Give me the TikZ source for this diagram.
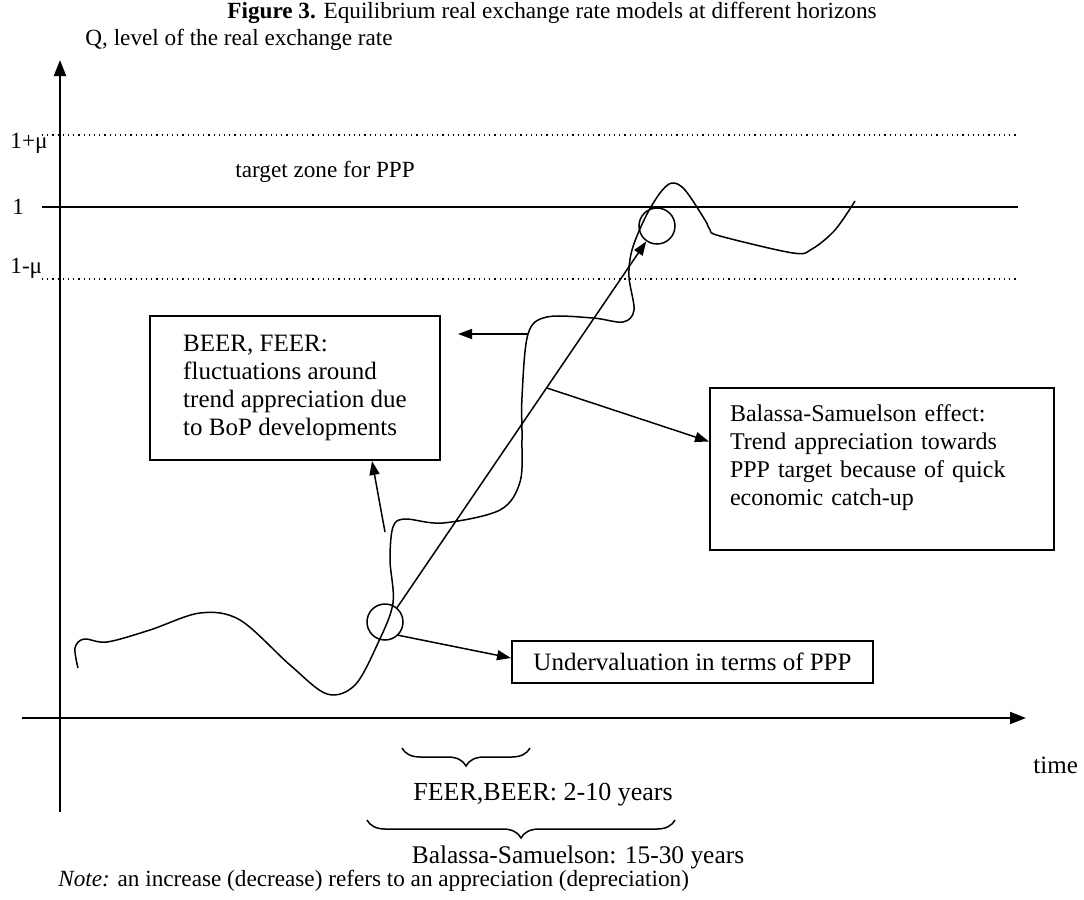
\documentclass[tikz,border=0pt]{standalone}
\usepackage{fontspec}
\setmainfont{Liberation Serif}
\usetikzlibrary{positioning,arrows.meta,decorations.pathreplacing,calc}

\begin{document}
\begin{tikzpicture}[
		x=0.5pt,y=-0.5pt,
		axis/.style={line width=1pt,-{Triangle[length=8pt,width=6pt]}},
		tip/.style={line width=0.75pt,-{Triangle[length=7pt,width=5pt]}},
		infobox/.style={draw,line width=1pt,align=left,inner ysep=0pt,font=\fontsize{12.5}{14}\selectfont},
		circ/.style={draw,circle,minimum size=18pt,inner sep=0pt,line width=0.75pt},
		lbl/.style={inner sep=0pt,font=\fontsize{11.6}{14}\selectfont},
		brc/.style={decorate,decoration={brace,mirror,amplitude=9pt},line width=0.75pt}
		]
		\useasboundingbox (0,0) rectangle (1084,900);
		% axes
		\coordinate (ybot) at (60,812);
		\coordinate (ytop) at (60,60);
		\coordinate (xleft) at (22,718);
		\coordinate (xright) at (1026,718);
		\draw[axis] (ybot) -- (ytop);
		\draw[axis] (xleft) -- (xright);
		% PPP level and target zone
		\draw[line width=1pt] (42,207) -- (1018,207);
		\draw[dotted,line width=0.6pt] (42,135) -- (1018,135);
		\draw[dotted,line width=0.6pt] (42,279) -- (1018,279);
		\node[lbl,anchor=west] (hi) at (10,143) {1+μ};
		\node[lbl,anchor=west] (one) at (12,207) {1};
		\node[lbl,anchor=west] (lo) at (10,268) {1-μ};
		\node[lbl,anchor=west] (zone) at (235,172) {target zone for PPP};
		\node[lbl,anchor=west] (title) at (227,13) {\textbf{Figure 3.} Equilibrium real exchange rate models at different horizons};
		\node[lbl,anchor=west] (qlab) at (85,40) {Q, level of the real exchange rate};
		\node[lbl,anchor=west,font=\fontsize{12.5}{14}\selectfont] (time) at (1033,765) {time};
		% real exchange rate path
		\draw[line width=0.75pt] plot[smooth,tension=0.55] coordinates {
			(78,668) (75,648) (84,639) (107,642) (150,630) (200,613) (240,620)
			(290,665) (327,694) (355,685) (378,643) (393,603) (390,560) (393,527)
			(405,519) (443,523) (500,510) (520,482) (522,440) (522,397) (528,334)
			(547,317) (593,318) (623,322) (634,310) (629,277) (632,250) (645,218)
			(660,193) (672,183) (685,190) (705,220) (710,230) (720,236) (793,253)
			(812,249) (835,230) (855,201)};
		\node[circ] (c1) at (385,622) {};
		\node[circ] (c2) at (657,226) {};
		% boxes
		\node[infobox,minimum width=145pt,minimum height=72pt] (beer) at (295,388)
			{BEER, FEER:\\fluctuations around\\trend appreciation due\\to BoP developments};
		\node[infobox,font=\fontsize{12}{14}\selectfont,minimum width=172pt,minimum height=81pt,text width=152pt,inner xsep=10pt] (bs) at (882,469)
			{Balassa-Samuelson effect:\\Trend appreciation towards\\PPP target because of quick\\economic catch-up\\~};
		\node[infobox,minimum width=180.5pt,minimum height=21pt,inner xsep=0pt] (under) at (692.5,662)
			{Undervaluation in terms of PPP};
		% arrows
		\coordinate (kink) at (385,532);
		\coordinate (wave) at (528,334);
		\coordinate (wend) at (458,334);
		\draw[tip] (c1.50) -- (c2.235);
		\draw[tip] (c1.-45) -- ([yshift=2pt]under.west);
		\draw[tip] (kink) -- ([xshift=38.5pt]beer.south);
		\draw[tip] (wave) -- (wend);
		\draw[tip] ($(c1.50)!0.6!(c2.235)$) -- ([yshift=13.75pt]bs.west);
		% horizons
		\coordinate (s1) at (402,748);
		\coordinate (s2) at (530,748);
		\coordinate (l1) at (367,820);
		\coordinate (l2) at (675,820);
		\draw[brc] (s1) -- (s2);
		\draw[brc] (l1) -- (l2);
		\node[lbl,font=\fontsize{13}{14}\selectfont] (short) at (543,795) {FEER,BEER: 2-10 years};
		\node[lbl,font=\fontsize{12.7}{14}\selectfont] (long) at (578,857) {Balassa-Samuelson: 15-30 years};
		\node[lbl,anchor=west] (note) at (58,881) {\textit{Note:} an increase (decrease) refers to an appreciation (depreciation)};
\end{tikzpicture}
\end{document}
